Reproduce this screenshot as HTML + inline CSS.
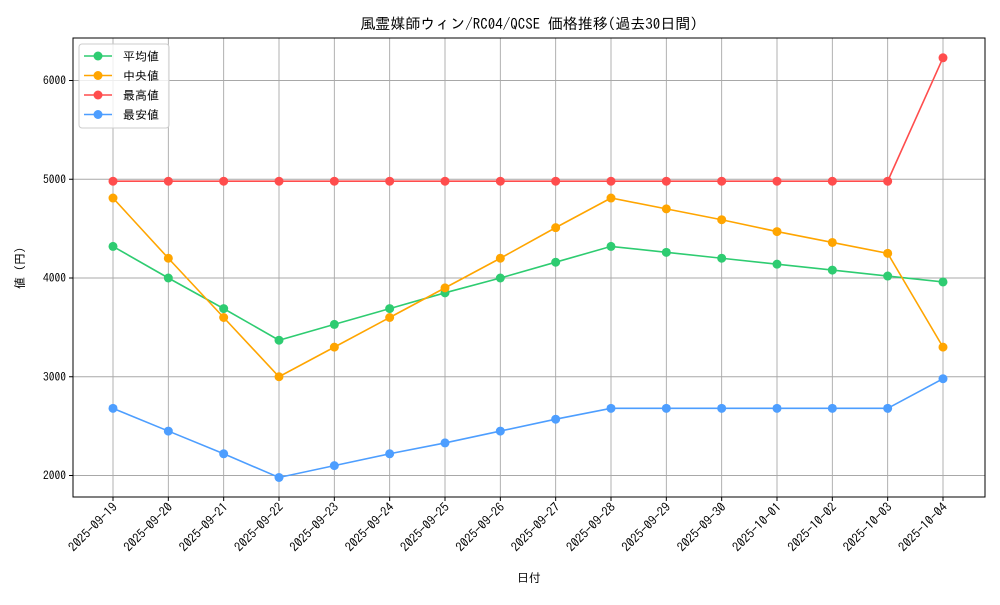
<!DOCTYPE html>
<html><head><meta charset="utf-8"><style>
body{margin:0;background:#fff;}
svg text{font-family:"IPAGothic","Noto Sans CJK JP",sans-serif;fill:#000;}
</style></head><body>
<svg id="chart" width="1000" height="600">
<text x="529" y="29" font-size="15" text-anchor="middle">風霊媒師ウィン/RC04/QCSE 価格推移(過去30日間)</text>
<g id="grid"></g><g id="axes"></g><g id="series"></g>
<text x="529" y="582" font-size="12" text-anchor="middle">日付</text>
<text transform="translate(24,268) rotate(-90)" font-size="12" text-anchor="middle">値 (円)</text>
<g id="legend"></g>
</svg>
<script>
const categories=["2025-09-19","2025-09-20","2025-09-21","2025-09-22","2025-09-23","2025-09-24","2025-09-25","2025-09-26","2025-09-27","2025-09-28","2025-09-29","2025-09-30","2025-10-01","2025-10-02","2025-10-03","2025-10-04"];
const avgValues=[4320,4000,3690,3370,3530,3690,3850,4000,4160,4320,4260,4200,4140,4080,4020,3960];
const medianValues=[4810,4200,3600,3000,3300,3600,3900,4200,4510,4810,4700,4590,4470,4360,4250,3300];
const maxValues=[4980,4980,4980,4980,4980,4980,4980,4980,4980,4980,4980,4980,4980,4980,4980,6230];
const minValues=[2680,2450,2220,1980,2100,2220,2330,2450,2570,2680,2680,2680,2680,2680,2680,2980];
const yTicks=[2000,3000,4000,5000,6000];
const seriesNames=["平均値","中央値","最高値","最安値"];
const seriesColors=["#2ecc71","#ffa500","#ff4d4d","#4d9eff"];
const L=73,R=985,T=38,B=497;
const x=i=>113+i*(943-113)/(categories.length-1);
const y=v=>278-(v-4000)*0.09875;
const NS="http://www.w3.org/2000/svg";
function mk(tag,attrs,parent){const e=document.createElementNS(NS,tag);for(const k in attrs)e.setAttribute(k,attrs[k]);parent.appendChild(e);return e;}
const grid=document.getElementById('grid'),axes=document.getElementById('axes'),ser=document.getElementById('series'),leg=document.getElementById('legend');
categories.forEach((c,i)=>{
 const g=mk('line',{x1:x(i),x2:x(i),y1:T,y2:B,stroke:'#a8a8a8','stroke-width':0.9},grid);
 
 
 mk('line',{x1:x(i),x2:x(i),y1:B,y2:B+4,stroke:'#000'},axes);
 const t=mk('text',{transform:`translate(${x(i)+5},${B+11}) rotate(-45)`,'font-size':12.5,'text-anchor':'end'},axes);
 t.textContent=c;
 
 
});
yTicks.forEach(v=>{
 const g=mk('line',{x1:L,x2:R,y1:y(v),y2:y(v),stroke:'#a8a8a8','stroke-width':0.9},grid);
 
 
 mk('line',{x1:L-4,x2:L,y1:y(v),y2:y(v),stroke:'#000'},axes);
 const t=mk('text',{x:L-7,y:y(v)+4,'font-size':11.5,'text-anchor':'end'},axes);
 t.textContent=v;
 
 
});
const frame=mk('rect',{x:L,y:T,width:R-L,height:B-T,fill:'none',stroke:'#000','stroke-width':1},axes);


[avgValues,medianValues,maxValues,minValues].forEach((vals,s)=>{
 const g=mk('g',{},ser);
 
 
 mk('polyline',{points:vals.map((v,i)=>x(i)+','+y(v)).join(' '),fill:'none',stroke:seriesColors[s],'stroke-width':1.6},g);
 vals.forEach((v,i)=>{
  const c=mk('circle',{cx:x(i),cy:y(v),r:4.5,fill:seriesColors[s]},g);
  
  
 });
});
const box=mk('rect',{x:79,y:44,width:90,height:84,rx:3,fill:'#fff','fill-opacity':0.8,stroke:'#ccc'},leg);


seriesNames.forEach((n,s)=>{
 const yy=56+s*19.5;
 const g=mk('g',{},leg);
 
 
 mk('line',{x1:84,x2:112,y1:yy,y2:yy,stroke:seriesColors[s],'stroke-width':1.6},g);
 mk('circle',{cx:98,cy:yy,r:4.5,fill:seriesColors[s]},g);
 const t=mk('text',{x:123,y:yy+4.5,'font-size':12},g);
 t.textContent=n;
});
</script>
</body></html>
